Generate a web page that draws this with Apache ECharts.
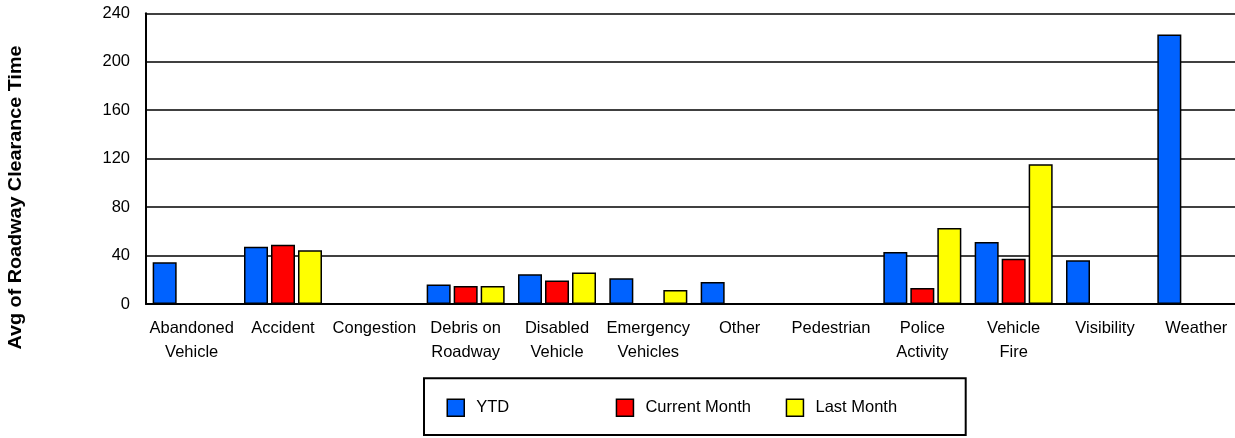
<!DOCTYPE html>
<html>
<head>
<meta charset="utf-8">
<title>Avg of Roadway Clearance Time</title>
<script src="https://cdn.jsdelivr.net/npm/echarts@6/dist/echarts.min.js"></script>
<style>
  html, body { margin: 0; padding: 0; background: #fff; overflow: hidden; }
  /* the plot area runs a few pixels past the right edge of the window */
  #chart { width: 1242px; height: 438px; }
</style>
</head>
<body>
<div id="chart"></div>
<script>
// Incident types along the x axis
const categories = [
  'Abandoned\nVehicle', 'Accident', 'Congestion', 'Debris on\nRoadway',
  'Disabled\nVehicle', 'Emergency\nVehicles', 'Other', 'Pedestrian',
  'Police\nActivity', 'Vehicle\nFire', 'Visibility', 'Weather'
];

// Average roadway clearance time per incident type (null = no incidents)
const ytd          = [34.4, 47.3, null, 16.2, 24.5, 21.2, 18.2, null, 42.9, 51.2, 36.1, 222.4];
const currentMonth = [null, 49.0, null, 14.9, 19.5, null, null, null, 13.2, 37.4, null, null];
const lastMonth    = [null, 44.3, null, 14.9, 26.1, 11.6, null, null, 62.8, 115.3, null, null];

// Value axis ticks
const yTicks = [0, 40, 80, 120, 160, 200, 240];

// Series names and fills
const seriesNames = ['YTD', 'Current Month', 'Last Month'];
const seriesColors = ['#0062ff', '#ff0000', '#ffff00'];

const FONT = '"Liberation Sans", Arial, sans-serif';

const chart = echarts.init(document.getElementById('chart'), null, { renderer: 'canvas' });

function barSeries(name, data, color) {
  return {
    name: name,
    type: 'bar',
    data: data,
    barWidth: 24,
    barGap: '12.5%',
    itemStyle: { color: color, borderColor: '#000', borderWidth: 1.5 },
    emphasis: { disabled: true },
    animation: false
  };
}

// One legend entry per series, laid out in equal-width cells inside a framed box
const legendLefts = [446.5, 615.7, 785.7];
const legends = seriesNames.map(function (name, i) {
  return {
    left: legendLefts[i],
    top: 398.5,
    padding: 0,
    icon: 'rect',
    itemWidth: 17,
    itemHeight: 17,
    selectedMode: false,
    itemStyle: { borderColor: '#000', borderWidth: 1.5 },
    textStyle: {
      fontFamily: FONT,
      fontSize: 16.5,
      color: '#000',
      padding: [0, 0, 3, 7]
    },
    data: [name]
  };
});

chart.setOption({
  animation: false,
  backgroundColor: '#fff',
  textStyle: { fontFamily: FONT, color: '#000' },
  grid: { left: 146, right: 0, top: 13.3, bottom: 134, containLabel: false },
  xAxis: {
    type: 'category',
    data: categories,
    axisLine: { show: true, lineStyle: { color: '#000', width: 2 } },
    axisTick: { show: false },
    axisLabel: {
      interval: 0,
      margin: 12,
      fontFamily: FONT,
      fontSize: 16.5,
      lineHeight: 24,
      color: '#000'
    }
  },
  yAxis: {
    type: 'value',
    min: yTicks[0],
    max: yTicks[yTicks.length - 1],
    interval: yTicks[1] - yTicks[0],
    axisLine: { show: true, lineStyle: { color: '#000', width: 2 } },
    axisTick: { show: false },
    axisLabel: {
      margin: 16,
      fontFamily: FONT,
      fontSize: 16.5,
      color: '#000',
      padding: [0, 0, 3, 0]
    },
    splitLine: { show: true, lineStyle: { color: '#000', width: 1.6 } }
  },
  legend: legends,
  graphic: [{
    type: 'text',
    x: 16,
    y: 197.5,
    rotation: Math.PI / 2,
    scaleX: 1.097,
    style: {
      text: 'Avg of Roadway Clearance Time',
      font: 'bold 18px ' + FONT,
      fill: '#000',
      align: 'center',
      verticalAlign: 'middle'
    }
  }, {
    type: 'rect',
    shape: { x: 424, y: 378.3, width: 541.7, height: 56.7 },
    style: { fill: 'none', stroke: '#000', lineWidth: 2 },
    silent: true
  }],
  series: seriesNames.map(function (name, i) {
    return barSeries(name, [ytd, currentMonth, lastMonth][i], seriesColors[i]);
  })
});
</script>
</body>
</html>
